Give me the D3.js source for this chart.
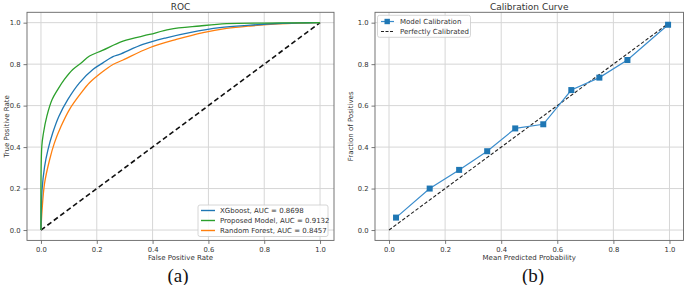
<!DOCTYPE html>
<html><head><meta charset="utf-8">
<script src="https://cdn.jsdelivr.net/npm/d3@7"></script>
<style>body{margin:0;background:#fff}svg{display:block}</style>
</head><body><svg id="c" width="685" height="285"></svg>
<script>
// ROC data (false positive rate, true positive rate)
const xgbFpr = [0,0.004,0.013,0.025,0.042,0.064,0.096,0.138,0.186,0.222,0.258,0.282,0.365,0.449,0.533,0.641,0.75,0.85,0.93,1.0];
const xgbTpr = [0,0.194,0.306,0.387,0.468,0.548,0.629,0.71,0.774,0.806,0.836,0.847,0.895,0.927,0.952,0.976,0.988,0.996,0.999,1.0];
const propFpr = [0,0.003,0.009,0.021,0.04,0.06,0.084,0.114,0.144,0.174,0.22,0.294,0.389,0.461,0.569,0.665,0.8,0.9,1.0];
const propTpr = [0,0.403,0.468,0.548,0.629,0.677,0.726,0.774,0.806,0.839,0.866,0.911,0.943,0.968,0.984,0.995,0.998,0.999,1.0];
const rfFpr = [0,0.004,0.013,0.031,0.048,0.072,0.102,0.144,0.174,0.216,0.258,0.294,0.389,0.485,0.581,0.665,0.75,0.85,0.93,1.0];
const rfTpr = [0,0.097,0.226,0.339,0.419,0.5,0.581,0.661,0.71,0.758,0.798,0.82,0.879,0.919,0.952,0.972,0.984,0.994,0.998,1.0];
const rocNames = ["XGboost, AUC = 0.8698","Proposed Model, AUC = 0.9132","Random Forest, AUC = 0.8457"];
// Calibration data
const calPred = [0.025,0.145,0.25,0.35,0.45,0.55,0.65,0.75,0.85,0.995];
const calFrac = [0.06,0.20,0.29,0.38,0.49,0.51,0.675,0.735,0.82,0.99];
const ticks = [0,0.2,0.4,0.6,0.8,1.0];

const svg = d3.select("#c");
const FONT = "DejaVu Sans, sans-serif";
const C = {blue:"#1f77b4", green:"#2ca02c", orange:"#ff7f0e"};

function panel(left, right, title, xlab, ylab, tag, ylabX, capX){
  const x = d3.scaleLinear().domain([-0.05,1.05]).range([left,right]);
  const y = d3.scaleLinear().domain([-0.05,1.05]).range([240.4,12.3]);
  const g = svg.append("g");
  g.selectAll(".gx").data(ticks).enter().append("line")
    .attr("x1",d=>x(d)).attr("x2",d=>x(d)).attr("y1",y(-0.05)).attr("y2",y(1.05))
    .attr("stroke","#d6d6d6").attr("stroke-width",1);
  g.selectAll(".gy").data(ticks).enter().append("line")
    .attr("y1",d=>y(d)).attr("y2",d=>y(d)).attr("x1",x(-0.05)).attr("x2",x(1.05))
    .attr("stroke","#d6d6d6").attr("stroke-width",1);
  const xa = d3.axisBottom(x).tickValues(ticks).tickFormat(d3.format(".1f")).tickSize(3.5).tickPadding(3);
  const ya = d3.axisLeft(y).tickValues(ticks).tickFormat(d3.format(".1f")).tickSize(3.5).tickPadding(3);
  const gx = g.append("g").attr("transform",`translate(0,${y(-0.05)})`).call(xa);
  const gy = g.append("g").attr("transform",`translate(${x(-0.05)},0)`).call(ya);
  [gx,gy].forEach(a=>{
    a.select(".domain").remove();
    a.selectAll("line").attr("stroke","#555").attr("stroke-width",0.8);
    a.selectAll("text").attr("fill","#333").style("font-family",FONT).style("font-size","6.8px");
  });
  g.append("rect").attr("x",x(-0.05)).attr("y",y(1.05)).attr("width",x(1.05)-x(-0.05)).attr("height",y(-0.05)-y(1.05))
    .attr("fill","none").attr("stroke","#666").attr("stroke-width",0.9);
  g.append("text").attr("x",(left+right)/2).attr("y",9.5).attr("text-anchor","middle")
    .style("font-family",FONT).style("font-size","9px").attr("fill","#333").text(title);
  g.append("text").attr("x",(left+right)/2).attr("y",260).attr("text-anchor","middle")
    .style("font-family",FONT).style("font-size","7px").attr("fill","#333").text(xlab);
  g.append("text").attr("transform",`translate(${ylabX},${y(0.5)}) rotate(-90)`).attr("text-anchor","middle")
    .style("font-family",FONT).style("font-size","7px").attr("fill","#333").text(ylab);
  g.append("text").attr("x",capX).attr("y",282).attr("text-anchor","middle")
    .style("font-family","Liberation Serif, Times New Roman, serif").style("font-size","19px").attr("fill","#111").text(tag);
  return {x,y,g};
}

// Panel (a)
const A = panel(27,334,"ROC","False Positive Rate","True Positive Rate","(a)",8.5,178);
const line = d3.line().x(d=>A.x(d[0])).y(d=>A.y(d[1]));
const curve = d3.line().curve(d3.curveCatmullRom.alpha(0.5)).x(d=>A.x(d[0])).y(d=>A.y(d[1]));
const rocSeries = [
  {f:xgbFpr,t:xgbTpr,c:C.blue},
  {f:propFpr,t:propTpr,c:C.green},
  {f:rfFpr,t:rfTpr,c:C.orange}
];
A.g.append("path").datum([[0,0],[1,1]]).attr("d",line).attr("fill","none")
  .attr("stroke","#111").attr("stroke-width",1.6).attr("stroke-dasharray","5,3");
[rocSeries[2],rocSeries[0],rocSeries[1]].forEach(s=>{
  A.g.append("path").datum(s.f.map((v,i)=>[v,s.t[i]])).attr("d",curve).attr("fill","none")
    .attr("stroke",s.c).attr("stroke-width",1.3).attr("stroke-linejoin","round");
});
const LA = A.g.append("g");
LA.append("rect").attr("x",198).attr("y",205).attr("width",130).attr("height",31.5).attr("rx",2)
  .attr("fill","#fff").attr("fill-opacity",0.85).attr("stroke","#ccc").attr("stroke-width",0.8);
rocSeries.forEach((s,i)=>{
  const yy = 210.5 + i*10;
  LA.append("line").attr("x1",201).attr("x2",215).attr("y1",yy).attr("y2",yy).attr("stroke",s.c).attr("stroke-width",1.4);
  LA.append("text").attr("x",220).attr("y",yy+2.5).style("font-family",FONT).style("font-size","7px").attr("fill","#333").text(rocNames[i]);
});

// Panel (b)
const B = panel(375,683.5,"Calibration Curve","Mean Predicted Probability","Fraction of Positives","(b)",352.5,533);
const lineB = d3.line().x(d=>B.x(d[0])).y(d=>B.y(d[1]));
B.g.append("path").datum([[0,0],[1,1]]).attr("d",lineB).attr("fill","none")
  .attr("stroke","#222").attr("stroke-width",1.1).attr("stroke-dasharray","3.5,2");
const calPts = calPred.map((v,i)=>[v,calFrac[i]]);
B.g.append("path").datum(calPts).attr("d",lineB).attr("fill","none").attr("stroke","#3a8ccc").attr("stroke-width",1.2);
B.g.selectAll(".m").data(calPts).enter().append("rect")
  .attr("x",d=>B.x(d[0])-3).attr("y",d=>B.y(d[1])-3).attr("width",6).attr("height",6).attr("fill",C.blue);
const LB = B.g.append("g");
LB.append("rect").attr("x",377.5).attr("y",15.3).attr("width",93).attr("height",22).attr("rx",2)
  .attr("fill","#fff").attr("fill-opacity",0.85).attr("stroke","#ccc").attr("stroke-width",0.8);
LB.append("line").attr("x1",381).attr("x2",394).attr("y1",21.5).attr("y2",21.5).attr("stroke","#3a8ccc").attr("stroke-width",1.2);
LB.append("rect").attr("x",384.5).attr("y",18.8).attr("width",5.4).attr("height",5.4).attr("fill",C.blue);
LB.append("text").attr("x",400).attr("y",24).style("font-family",FONT).style("font-size","7px").attr("fill","#333").text("Model Calibration");
LB.append("line").attr("x1",381).attr("x2",394).attr("y1",31.5).attr("y2",31.5).attr("stroke","#222").attr("stroke-width",1.1).attr("stroke-dasharray","3,1.5");
LB.append("text").attr("x",400).attr("y",34).style("font-family",FONT).style("font-size","7px").attr("fill","#333").text("Perfectly Calibrated");
</script></body></html>
